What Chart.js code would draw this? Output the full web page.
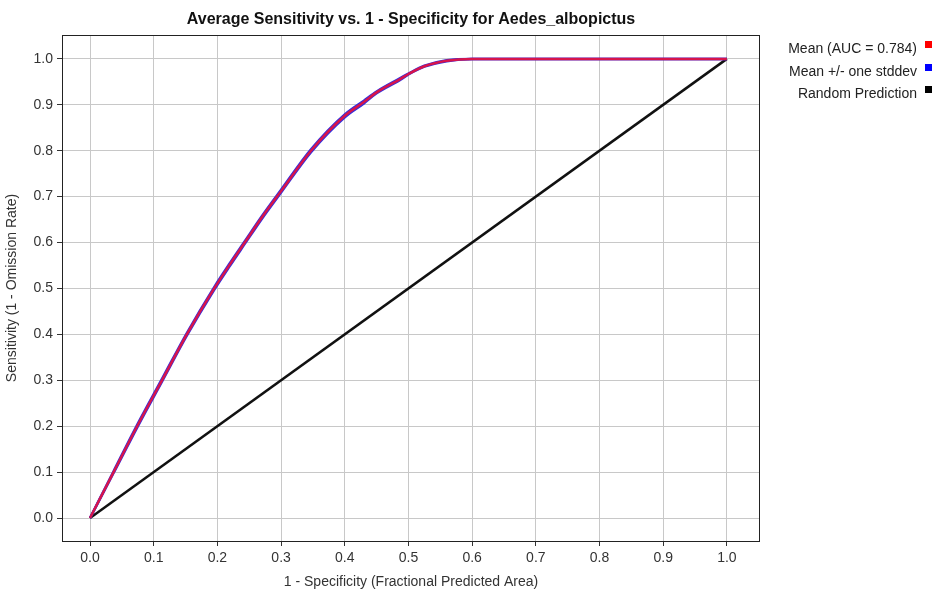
<!DOCTYPE html>
<html>
<head>
<meta charset="utf-8">
<script src="https://cdn.jsdelivr.net/npm/chart.js@4"></script>
<style>
  body { margin: 0; background: #fff; }
  #wrap { position: relative; width: 939px; height: 595px; }
  #legend { position: absolute; right: 7px; top: 38px; font: 14px "Liberation Sans", Arial, sans-serif; color: #222; text-align: right; }
  #legend div { height: 22.5px; line-height: 20px; }
  #legend span { display: inline-block; width: 7px; height: 7px; margin-left: 8px; vertical-align: 5px; }
</style>
</head>
<body>
<div id="wrap">
  <canvas id="chart" width="939" height="595"></canvas>
  <div id="legend"></div>
</div>
<script>
const chartElm = document.getElementById('chart');

// ROC curve
var specX  = [0, 0.037, 0.074, 0.113, 0.152, 0.195, 0.22, 0.243, 0.27, 0.3, 0.347, 0.4, 0.43, 0.45, 0.487, 0.5, 0.525, 0.56, 0.6, 0.7, 0.8, 0.9, 1.0]
var meanY  = [0, 0.1, 0.2, 0.3, 0.4, 0.5, 0.553, 0.6, 0.655, 0.712, 0.8, 0.876, 0.906, 0.927, 0.956, 0.967, 0.984, 0.996, 1.0, 1.0, 1.0, 1.0, 1.0]
var upperY = [0, 0.102, 0.203, 0.303, 0.403, 0.503, 0.556, 0.603, 0.658, 0.715, 0.803, 0.879, 0.909, 0.929, 0.958, 0.968, 0.985, 0.997, 1.0, 1.0, 1.0, 1.0, 1.0]
var lowerY = [0, 0.098, 0.197, 0.297, 0.397, 0.497, 0.55, 0.597, 0.652, 0.709, 0.797, 0.873, 0.903, 0.925, 0.954, 0.966, 0.983, 0.995, 1.0, 1.0, 1.0, 1.0, 1.0]
var randomX = [0, 1]
var randomY = [0, 1]

var legendItems = [
    { label: 'Mean (AUC = 0.784)', color: '#ff0000' },
    { label: 'Mean +/- one stddev', color: '#0000ff' },
    { label: 'Random Prediction', color: '#000000' },
]

var ticks = [0, 0.1, 0.2, 0.3, 0.4, 0.5, 0.6, 0.7, 0.8, 0.9, 1.0]

const toPts = (xs, ys) => xs.map((x, i) => ({ x: x, y: ys[i] }))

const fontFamily = '"Liberation Sans", Arial, sans-serif'

const framePlugin = {
    id: 'frame',
    afterDraw(chart) {
        const a = chart.chartArea
        const ctx = chart.ctx
        ctx.save()
        ctx.strokeStyle = '#222'
        ctx.lineWidth = 1
        ctx.strokeRect(a.left + 0.5, a.top + 0.5, a.right - a.left - 1, a.bottom - a.top)
        ctx.fillStyle = '#111'
        ctx.font = 'bold 16px ' + fontFamily
        ctx.textAlign = 'center'
        ctx.textBaseline = 'middle'
        ctx.fillText('Average Sensitivity vs. 1 - Specificity for Aedes_albopictus', (a.left + a.right) / 2, 20)
        ctx.restore()
    }
}

// first dataset is drawn on top
new Chart(chartElm, {
    type: 'scatter',
    data: {
        datasets: [{
            label: 'mean',
            data: toPts(specX, meanY),
            showLine: true,
            borderColor: 'rgb(215, 20, 75)',
            borderWidth: 2.5,
            pointRadius: 0,
            cubicInterpolationMode: 'monotone',
        }, {
            label: 'upper',
            data: toPts(specX, upperY),
            showLine: true,
            borderColor: '#3030e0',
            borderWidth: 2.5,
            pointRadius: 0,
            cubicInterpolationMode: 'monotone',
        }, {
            label: 'lower',
            data: toPts(specX, lowerY),
            showLine: true,
            borderColor: '#3030e0',
            borderWidth: 2.5,
            pointRadius: 0,
            cubicInterpolationMode: 'monotone',
        }, {
            label: 'random',
            data: toPts(randomX, randomY),
            showLine: true,
            borderColor: '#111',
            borderWidth: 2.5,
            pointRadius: 0,
        }]
    },
    options: {
        responsive: false,
        animation: false,
        layout: { padding: { top: 35, right: 179, left: 0, bottom: 0 } },
        plugins: {
            legend: { display: false },
            tooltip: { enabled: false },
        },
        scales: {
            x: {
                type: 'linear',
                min: -0.044,
                max: 1.052,
                afterBuildTicks: s => { s.ticks = ticks.map(v => ({ value: v })) },
                afterFit: s => { s.height = 54 },
                grid: { color: '#c8c8c8', tickColor: '#333', tickLength: 5, drawTicks: true },
                border: { display: false },
                ticks: {
                    callback: v => v.toFixed(1),
                    color: '#333',
                    font: { size: 14, family: fontFamily },
                    padding: 4,
                },
                title: {
                    display: true,
                    text: '1 - Specificity (Fractional Predicted Area)',
                    color: '#333',
                    font: { size: 14, family: fontFamily },
                    padding: { top: 0 },
                }
            },
            y: {
                type: 'linear',
                min: -0.05,
                max: 1.052,
                afterBuildTicks: s => { s.ticks = ticks.map(v => ({ value: v })) },
                afterFit: s => { s.width = 62 },
                grid: { color: '#c8c8c8', tickColor: '#333', tickLength: 5, drawTicks: true },
                border: { display: false },
                ticks: {
                    callback: v => v.toFixed(1),
                    color: '#333',
                    font: { size: 14, family: fontFamily },
                    padding: 4,
                },
                title: {
                    display: true,
                    text: 'Sensitivity (1 - Omission Rate)',
                    color: '#333',
                    font: { size: 14, family: fontFamily },
                    padding: { bottom: 0 },
                }
            }
        }
    },
    plugins: [framePlugin]
});

document.getElementById('legend').innerHTML = legendItems.map(e =>
    '<div>' + e.label + '<span style="background:' + e.color + '"></span></div>').join('')
</script>
</body>
</html>
